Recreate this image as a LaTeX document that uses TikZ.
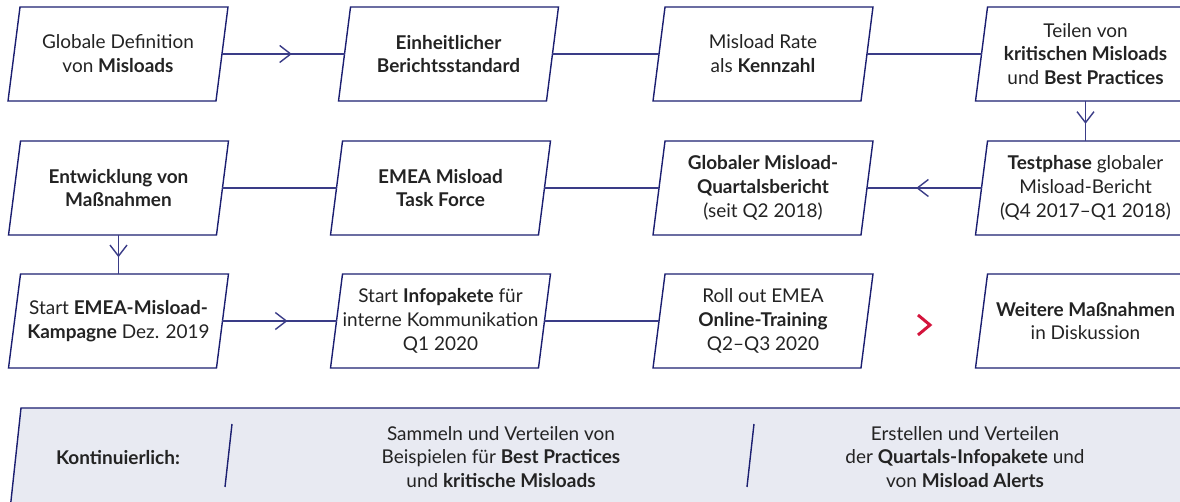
\documentclass[tikz,border=0pt]{standalone}
\usepackage{fontspec}
\setmainfont{Lato}
\usepackage{xcolor}
\usepackage{tikz}
\usetikzlibrary{calc}
\usetikzlibrary{arrows.meta,decorations.markings}

\definecolor{navy}{RGB}{27,30,112}
\definecolor{linkblue}{RGB}{58,60,135}
\definecolor{bandgrey}{RGB}{232,234,242}
\definecolor{signalred}{RGB}{212,20,60}
\definecolor{textgrey}{RGB}{35,35,35}

\tikzset{
  stage/.style={minimum width=4.16cm, minimum height=1.88cm, inner sep=0pt, outer sep=0pt,
    align=center, text=textgrey, font=\fontsize{10.8}{13.6}\selectfont},
  bandtext/.style={align=center, inner sep=0pt, text=textgrey, font=\fontsize{10.8}{13.6}\selectfont},
  frame/.style={draw=navy, line width=0.8pt},
  link/.style={draw=linkblue, line width=0.8pt},
  flow/.style={link, decoration={markings,
    mark=at position 0.57 with {\arrow{Straight Barb[length=0.22cm,width=0.34cm]}}},
    postaction={decorate}}
}

\begin{document}
\begin{tikzpicture}[x=0.02cm, y=-0.02cm]
	\useasboundingbox (0,0) rectangle (1180,502);
	\clip (0,0) rectangle (1180,502);

	% band at the bottom
	\fill[bandgrey] (21,408) -- (1200,408) -- (1200,510) -- (10,510) -- cycle;
	\draw[frame] (10,510) -- (21,408) -- (1200,408);
	\draw[frame] (232,424) -- (225,487);
	\draw[frame] (754,424) -- (747,487);
	\node[bandtext] (cont) at (118,458) {\textbf{Kontinuierlich:}};
	\node[bandtext] (collect) at (501,457) {Sammeln und Verteilen von\\Beispielen für \textbf{Best Practices}\\und \textbf{kritische Misloads}};
	\node[bandtext] (create) at (965,457) {Erstellen und Verteilen\\der \textbf{Quartals-Infopakete} und\\von \textbf{Misload Alerts}};

	% first row
	\node[stage] (def) at (118,54) {Globale Definition\\von \textbf{Misloads}};
	\node[stage] (std) at (448.5,54) {\textbf{Einheitlicher}\\\textbf{Berichtsstandard}};
	\node[stage] (rate) at (763,54) {Misload Rate\\als \textbf{Kennzahl}};
	\node[stage] (share) at (1085.5,54) {Teilen von\\\textbf{kritischen Misloads}\\und \textbf{Best Practices}};

	% second row
	\node[stage] (dev) at (118.5,188) {\textbf{Entwicklung von}\\\textbf{Maßnahmen}};
	\node[stage] (task) at (440.5,188) {\textbf{EMEA Misload}\\\textbf{Task Force}};
	\node[stage] (quart) at (763,188) {\textbf{Globaler Misload-}\\\textbf{Quartalsbericht}\\(seit Q2 2018)};
	\node[stage] (test) at (1085.5,188) {\textbf{Testphase} globaler\\Misload-Bericht\\(Q4 2017--Q1 2018)};

	% third row
	\node[stage] (camp) at (118.5,321) {Start \textbf{EMEA-Misload-}\\\textbf{Kampagne} Dez. 2019};
	\node[stage] (info) at (440.5,321) {Start \textbf{Infopakete} für\\interne Kommunikation\\Q1 2020};
	\node[stage] (train) at (763,321) {Roll out EMEA\\\textbf{Online-Training}\\Q2--Q3 2020};
	\node[stage] (more) at (1085.5,321) {\textbf{Weitere Maßnahmen}\\in Diskussion};

	\foreach \n in {def,std,rate,share,dev,task,quart,test,camp,info,train,more}
		\draw[frame] ($(\n.south west)+(-6,0)$) -- ($(\n.south east)+(-6,0)$)
			-- ($(\n.north east)+(6,0)$) -- ($(\n.north west)+(6,0)$) -- cycle;

	\draw[flow] (def) -- (std);
	\draw[link] (std) -- (rate);
	\draw[link] (rate) -- (share);
	\draw[flow] (share) -- (test);
	\draw[flow] (test) -- (quart);
	\draw[link] (quart) -- (task);
	\draw[link] (task) -- (dev);
	\draw[flow] (dev) -- (camp);
	\draw[flow] (camp) -- (info);
	\draw[link] (info) -- (train);
	\draw[signalred, line width=1.7pt] (918,315) -- (930,325) -- (918,335);
\end{tikzpicture}
\end{document}
